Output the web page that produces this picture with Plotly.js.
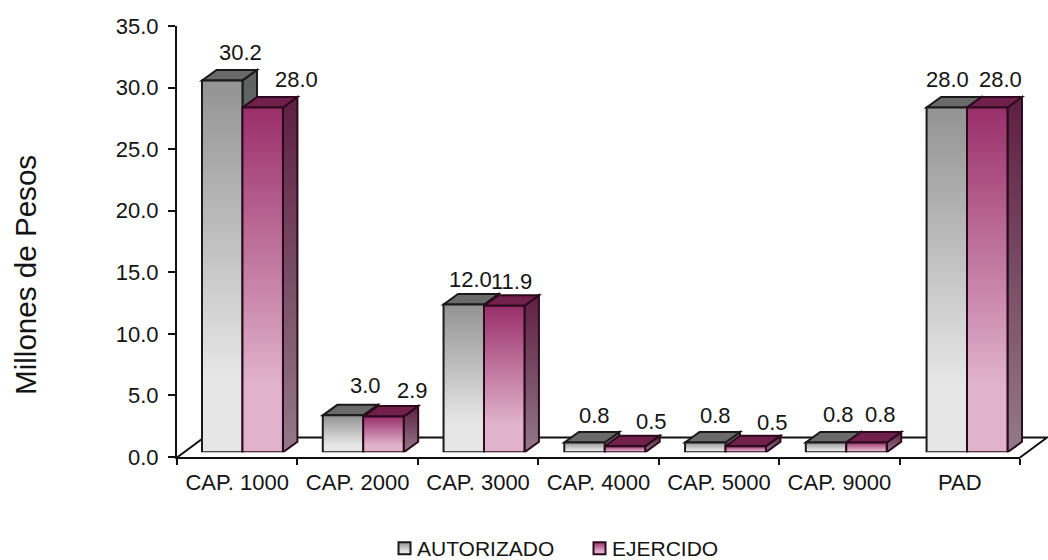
<!DOCTYPE html>
<html><head><meta charset="utf-8">
<script src="https://cdn.plot.ly/plotly-3.0.1.min.js"></script>
<style>html,body{margin:0;padding:0;background:#fff}#c{width:1048px;height:560px}</style>
</head><body><div id="c"></div>
<script>
const categories = ['CAP. 1000','CAP. 2000','CAP. 3000','CAP. 4000','CAP. 5000','CAP. 9000','PAD'];
const autorizado = [30.2, 3.0, 12.0, 0.8, 0.8, 0.8, 28.0];
const ejercido   = [28.0, 2.9, 11.9, 0.5, 0.5, 0.8, 28.0];
const yTicks = [0,5,10,15,20,25,30,35];

// label offsets from the top-centre of each bar, in pixels
const autLabelDx = [18,22,7,10,10,12,1];
const autLabelDy = [28,30,25,27,27,28,28];
const ejeLabelDx = [34,29,7,27,27,14,13];
const ejeLabelDy = [28,26,24,25,24,28,28];

const W=1048,H=560,mL=170,mT=10,mB=90,plotW=W-mL,plotH=H-mT-mB;
const px=x=>(x-mL)/plotW, py=y=>(H-mB-y)/plotH;
const barW=0.335, depthX=0.12, depthY=0.853;

const shapes=[], shapeFills=[];
function line(points){return 'M'+points.map(p=>p.join(',')).join('L')+'Z';}
// floor drawn first, under everything
shapes.push({type:'path',xref:'paper',yref:'paper',layer:'below',
  path:'M'+px(177)+','+py(457.5)+'L'+px(204)+','+py(437.5)+'L'+px(1047)+','+py(437.5)+'L'+px(1020)+','+py(457.5),
  line:{color:'#111',width:2},fillcolor:'rgba(0,0,0,0)'});
shapeFills.push(null);
categories.forEach((c,i)=>{
  [[autorizado,0,'gSideA','gTopA','#1a1a1a'],[ejercido,1,'gSideE','gTopE','#2a0a1c']].forEach(s=>{
    const v=s[0][i], l=s[1]===0?i-barW:i, r=s[1]===0?i:i+barW;
    shapes.push({type:'path',xref:'x2',yref:'y2',layer:'below',
      path:line([[r,0],[r+depthX,depthY],[r+depthX,v+depthY],[r,v]]),
      line:{color:s[4],width:2},fillcolor:'#666'});
    shapeFills.push(s[2]);
    shapes.push({type:'path',xref:'x2',yref:'y2',layer:'below',
      path:line([[l,v],[r,v],[r+depthX,v+depthY],[l+depthX,v+depthY]]),
      line:{color:s[4],width:2},fillcolor:'#666'});
    shapeFills.push(s[3]);
  });
});

const font={family:'"Liberation Sans",Arial,sans-serif',color:'#141414'};
const annotations=[];
function addLabels(values,side,dx,dy){
  values.forEach((v,i)=>annotations.push({xref:'x2',yref:'y2',x:i+(side===0?-barW/2:barW/2),y:v,
    text:v.toFixed(1),showarrow:false,xanchor:'center',yanchor:'middle',
    xshift:dx[i],yshift:dy[i],font:Object.assign({},font,{size:22})}));
}
addLabels(autorizado,0,autLabelDx,autLabelDy);
addLabels(ejercido,1,ejeLabelDx,ejeLabelDy);
annotations.push({xref:'paper',yref:'paper',x:px(25),y:py(275),text:'Millones de Pesos',
  textangle:-90,showarrow:false,xanchor:'center',yanchor:'middle',font:Object.assign({},font,{size:29.6})});

const xIdx=categories.map((_,i)=>i);
const data=[
 {type:'scatter',mode:'markers',x:categories,y:categories.map(()=>0),xaxis:'x',yaxis:'y',
  marker:{opacity:0},showlegend:false,hoverinfo:'skip'},
 {type:'bar',name:'AUTORIZADO',x:xIdx,y:autorizado,xaxis:'x2',yaxis:'y2',cliponaxis:false,
  marker:{color:'#bbbbbb',line:{color:'#1a1a1a',width:2}}},
 {type:'bar',name:'EJERCIDO',x:xIdx,y:ejercido,xaxis:'x2',yaxis:'y2',cliponaxis:false,
  marker:{color:'#c07aa0',line:{color:'#2a0a1c',width:2}}}
];
const layout={
 width:W,height:H,margin:{l:mL,r:0,t:mT,b:mB,autoexpand:false},
 paper_bgcolor:'#fff',plot_bgcolor:'rgba(0,0,0,0)',font:Object.assign({},font,{size:22}),
 barmode:'group',bargap:0.33,bargroupgap:0,
 xaxis:{type:'category',categoryorder:'array',categoryarray:categories,range:[-0.5,6.5],autorange:false,domain:[px(177),px(1020)],
  anchor:'y',tickson:'boundaries',ticks:'outside',ticklen:6,tickwidth:1.5,tickcolor:'#111',ticklabelstandoff:5,
  showline:true,linecolor:'#111',linewidth:2,showgrid:false,zeroline:false,fixedrange:true,
  tickfont:Object.assign({},font,{size:22})},
 yaxis:{range:[0,35],domain:[py(457),py(26)],anchor:'x',tickmode:'array',tickvals:yTicks,
  ticktext:yTicks.map(v=>v.toFixed(1)),ticks:'outside',ticklen:7,tickwidth:1.5,tickcolor:'#111',ticklabelstandoff:5,
  showline:true,linecolor:'#111',linewidth:2,showgrid:false,zeroline:false,fixedrange:true,
  tickfont:Object.assign({},font,{size:22})},
 xaxis2:{type:'linear',range:[-0.5,6.5],domain:[px(182.1),px(1027.4)],anchor:'y2',visible:false,fixedrange:true},
 yaxis2:{range:[0,35],domain:[py(452.3),py(21.3)],anchor:'x2',visible:false,fixedrange:true},
 shapes:shapes,annotations:annotations,
 legend:{orientation:'h',x:px(377),xanchor:'left',y:py(528),yanchor:'top',
  entrywidth:150,entrywidthmode:'pixels',bgcolor:'rgba(0,0,0,0)',font:Object.assign({},font,{size:21}),itemclick:false,itemdoubleclick:false}
};
const grads={
 gFrontA:[[0,'#939393'],[0.8,'#e6e6e6'],[1,'#e6e6e6']],
 gFrontE:[[0,'#9a2f69'],[0.8,'#e0b2cb'],[1,'#e0b2cb']],
 gSideA:[[0,'#5f6060'],[1,'#8f8f8f']],
 gSideE:[[0,'#5e1f42'],[1,'#937a88']],
 gTopA:[[0,'#6a6a6a'],[1,'#6a6a6a']],
 gTopE:[[0,'#6f2049'],[1,'#741f4e']]
};
Plotly.newPlot('c',data,layout,{displayModeBar:false}).then(gd=>{
  const svg=gd.querySelector('svg.main-svg');
  const NS='http://www.w3.org/2000/svg';
  const defs=svg.querySelector('defs')||svg.insertBefore(document.createElementNS(NS,'defs'),svg.firstChild);
  Object.keys(grads).forEach(id=>{
    const g=document.createElementNS(NS,'linearGradient');
    g.setAttribute('id',id);g.setAttribute('x1','0');g.setAttribute('y1','0');g.setAttribute('x2','0');g.setAttribute('y2','1');
    grads[id].forEach(s=>{const st=document.createElementNS(NS,'stop');st.setAttribute('offset',s[0]);st.setAttribute('stop-color',s[1]);g.appendChild(st);});
    defs.appendChild(g);
  });
  const barTraces=gd.querySelectorAll('.barlayer .trace');
  ['gFrontA','gFrontE'].forEach((id,k)=>{
    barTraces[k].querySelectorAll('.point path').forEach(p=>{p.style.fill='url(#'+id+')';});
  });
  gd.querySelectorAll('.shapelayer path[data-index]').forEach(p=>{
    const f=shapeFills[+p.getAttribute('data-index')];
    if(f) p.style.fill='url(#'+f+')';
  });
  gd.querySelectorAll('.legend .traces').forEach((t,k)=>{
    const p=t.querySelector('.legendpoints path');
    if(p){p.style.fill='url(#'+(k===0?'gFrontA':'gFrontE')+')';p.setAttribute('transform','translate(27.5,0)');}
  });
});
</script></body></html>
